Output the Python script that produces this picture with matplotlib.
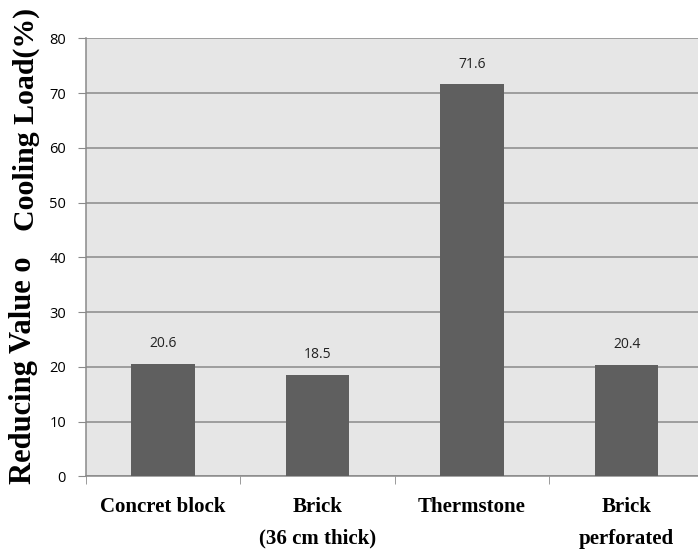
import matplotlib.pyplot as plt
import numpy as np

# data
materials = ["Concret block", "Brick\n(36 cm thick)", "Thermstone", "Brick\nperforated"]
reduction = [20.6, 18.5, 71.6, 20.4]
yticks = [0, 10, 20, 30, 40, 50, 60, 70, 80]

fig = plt.figure(figsize=(6.98, 5.52), dpi=100)
ax = fig.add_axes([0.1225, 0.1368, 0.886, 0.7937])
ax.set_facecolor("#e6e6e6")

x = np.arange(len(materials))
ax.bar(x, reduction, width=0.41, color="#5f5f5f", zorder=3)

for xi, v in zip(x, reduction):
    ax.text(xi, v + 3.7, f"{v}", ha="center", va="center",
            fontsize=10, color="#222222", family="Open Sans")

ax.set_xlim(-0.5, 3.5)
ax.set_ylim(0, 80)
ax.set_yticks(yticks)
ax.yaxis.grid(True, color="#8a8a8a", linewidth=1.1, zorder=1)
ax.set_axisbelow(True)

ax.set_xticks(x)
ax.set_xticklabels(materials, fontsize=15, fontweight="bold",
                   family="Liberation Serif", linespacing=1.75)
ax.tick_params(axis="x", which="major", length=0, pad=15)
ax.set_xticks([-0.5, 0.5, 1.5, 2.5], minor=True)
ax.tick_params(axis="x", which="minor", length=6, color="#8a8a8a")
ax.tick_params(axis="y", length=6, color="#8a8a8a", labelsize=10.5, pad=8)
for lab in ax.get_yticklabels():
    lab.set_family("Open Sans")

for side in ["top", "right"]:
    ax.spines[side].set_visible(False)
for side in ["left", "bottom"]:
    ax.spines[side].set_color("#8a8a8a")
    ax.spines[side].set_linewidth(1.1)

# split y label, as in the original figure
fig.text(0.034, 0.33, "Reducing Value o", rotation=90, ha="center", va="center",
         fontsize=22, fontweight="bold", family="Liberation Serif")
fig.text(0.038, 0.783, "Cooling Load(%)", rotation=90, ha="center", va="center",
         fontsize=21.5, fontweight="bold", family="Liberation Serif")

fig.savefig("out.png", dpi=100)
